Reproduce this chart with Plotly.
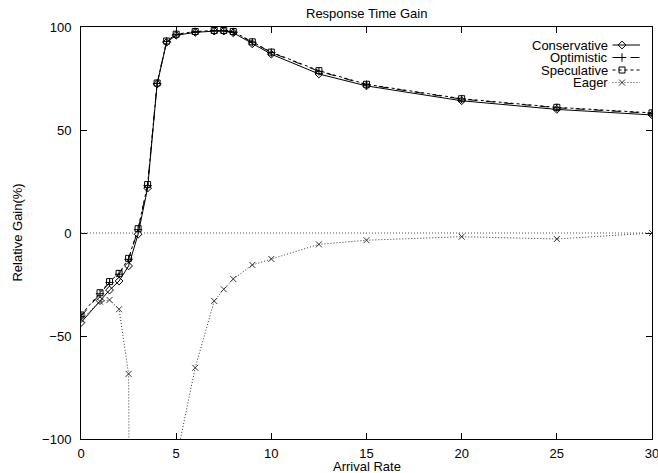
import plotly.graph_objects as go

# ---- data ----
arrival_rate = [0, 1, 1.5, 2, 2.5, 3, 3.5, 4, 4.5, 5, 6, 7, 7.5, 8, 9, 10, 12.5, 15, 20, 25, 30]
conservative = [-43.5, -32.8, -27.7, -23.3, -16.0, -0.6, 21.8, 72.3, 92.6, 96.0, 97.4, 98.0, 98.0, 97.2,
                91.8, 86.8, 77.2, 71.4, 64.2, 60.0, 57.3]
optimistic = [-40.5, -29.5, -24.0, -20.0, -12.8, 1.6, 23.0, 72.6, 93.0, 96.3, 97.6, 98.2, 98.2, 97.6,
              92.6, 87.6, 78.5, 72.0, 65.0, 60.8, 58.1]
speculative = [-39.8, -29.0, -23.6, -19.6, -12.3, 2.1, 23.5, 72.8, 93.2, 96.5, 97.8, 98.3, 98.3, 97.8,
               92.8, 87.8, 78.8, 72.2, 65.2, 61.0, 58.3]
eager = [-42.0, -33.3, -32.5, -37.0, -68.4, -860.0, -700.0, -500.0, -300.0, -110.0, -65.4, -33.0, -27.3,
         -22.3, -15.5, -12.6, -5.5, -3.5, -1.8, -2.9, 0.0]

series_names = ["Conservative", "Optimistic", "Speculative", "Eager"]
series_values = [conservative, optimistic, speculative, eager]
series_symbols = ["diamond-open", "cross-thin-open", "square-open", "x-thin-open"]
series_dash = ["solid", "dash", "3px,3px", "1px,2px"]
series_color = ["#000000", "#000000", "#000000", "#333333"]

x_ticks = [0, 5, 10, 15, 20, 25, 30]
y_ticks = [-100, -50, 0, 50, 100]

FONT = "Liberation Sans, Arial, Helvetica, sans-serif"
FS = 13

W, H = 658, 473
L, R, T, B = 80.5, 652, 27, 439
PW, PH = R - L, B - T

fig = go.Figure()

for name, vals, sym, dash, col in zip(series_names, series_values, series_symbols, series_dash, series_color):
    fig.add_trace(go.Scatter(
        x=arrival_rate, y=vals, name=name, mode="lines+markers",
        line=dict(color=col, width=1, dash=dash),
        marker=dict(symbol=sym, size=6, color=col, line=dict(color=col, width=1)),
        showlegend=False,
    ))

# ---- gnuplot-style legend (text right, sample on the right) ----
row_y = [18, 30.5, 43, 55.5]  # pixels below plot top
for i, (name, sym, dash, col) in enumerate(zip(series_names, series_symbols, series_dash, series_color)):
    fig.add_trace(go.Scatter(
        x=[532, 559.5], y=[row_y[i], row_y[i]], mode="lines", xaxis="x2", yaxis="y2",
        line=dict(color=col, width=1, dash=dash), showlegend=False, hoverinfo="skip"))
    fig.add_trace(go.Scatter(
        x=[541.5], y=[row_y[i]], mode="markers", xaxis="x2", yaxis="y2",
        marker=dict(symbol=sym, size=6, color=col, line=dict(color=col, width=1)),
        showlegend=False, hoverinfo="skip"))
    fig.add_annotation(x=528.5, y=row_y[i], xref="x2", yref="y2", text=name, showarrow=False,
                       xanchor="right", yanchor="middle", borderpad=0,
                       font=dict(family=FONT, size=FS, color="black"))

# zero axis (dotted)
fig.add_shape(type="line", xref="x domain", yref="y", x0=0, x1=1, y0=0, y1=0,
              line=dict(color="#555555", width=1, dash="1px,2px"))

axis_common = dict(showline=True, linecolor="black", linewidth=1, mirror="ticks", ticks="inside",
                   ticklen=6, tickcolor="black", tickwidth=1, showgrid=False, zeroline=False,
                   ticklabeloverflow="allow", automargin=False,
                   tickfont=dict(family=FONT, size=FS, color="black"))

fig.update_layout(
    width=W, height=H,
    margin=dict(l=L, r=W - R, t=T, b=H - B, pad=0, autoexpand=False),
    paper_bgcolor="white", plot_bgcolor="white",
    xaxis=dict(range=[0, 30], tickvals=x_ticks, ticklabelstandoff=2, **axis_common),
    yaxis=dict(range=[-100, 100], tickvals=y_ticks, ticklabelstandoff=6, **axis_common),
    xaxis2=dict(range=[0, PW], overlaying="x", visible=False, fixedrange=True),
    yaxis2=dict(range=[PH, 0], overlaying="y", visible=False, fixedrange=True),
    showlegend=False,
)

fig.add_annotation(x=0.5, y=(T - 14) / PH + 1, xref="paper", yref="paper", text="Response Time Gain",
                   showarrow=False, xanchor="center", yanchor="middle",
                   font=dict(family=FONT, size=FS, color="black"))
fig.add_annotation(x=0.5, y=-(466 - B) / PH, xref="paper", yref="paper", text="Arrival Rate",
                   showarrow=False, xanchor="center", yanchor="middle", borderpad=0,
                   font=dict(family=FONT, size=FS, color="black"))
fig.add_annotation(x=-(L - 16) / PW, y=0.5, xref="paper", yref="paper", text="Relative Gain(%)",
                   showarrow=False, xanchor="center", yanchor="middle", textangle=-90,
                   font=dict(family=FONT, size=FS, color="black"))

fig.write_html("out.html")
